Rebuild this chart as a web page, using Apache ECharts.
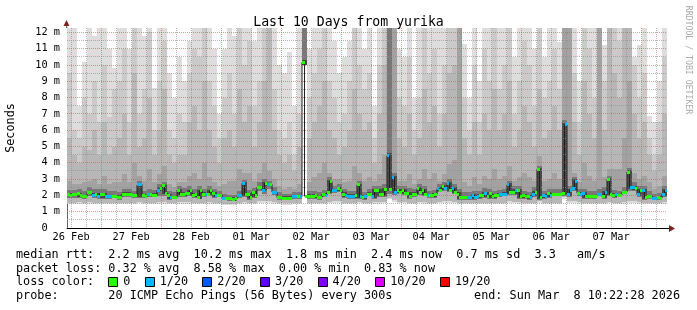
<!DOCTYPE html>
<html><head><meta charset="utf-8">
<script src="https://cdn.jsdelivr.net/npm/echarts@6/dist/echarts.min.js"></script>
<style>html,body{margin:0;padding:0;background:#fff}#c{width:697px;height:310px}</style>
</head><body><div id="c"></div>
<script>
// ---- time frame (hours after 26 Feb 00:00) ----
const startHour = 10 + 22/60 + 28/3600;   // end: Sun Mar 8 10:22:28 2026, 10 days
const spanHours = 240;
const medianStep = 1;   // hours per median value
const smokeStep = 2;    // hours per smoke column

const dayLabels = ['26 Feb','27 Feb','28 Feb','01 Mar','02 Mar','03 Mar','04 Mar','05 Mar','06 Mar','07 Mar'];
const dayLabelHours = [12,36,60,84,108,132,156,180,204,228];
const yTickValues = [0,1,2,3,4,5,6,7,8,9,10,11,12];

// ---- median rtt (ms), one per hour ----
const median = [
2.04,2.02,2.04,2.06,2.09,2.00,1.92,1.94,2.19,2.15,2.02,2.08,1.92,2.08,2.08,1.94,1.94,1.94,1.96,1.96,
1.86,1.88,2.08,2.08,2.06,2.08,1.98,2.00,2.64,2.68,1.98,1.96,2.04,2.06,2.02,2.00,2.33,2.45,2.59,2.14,
2.02,1.86,1.88,1.88,2.31,2.08,2.06,2.14,2.12,2.29,1.98,2.08,1.88,2.29,2.08,2.06,2.08,2.29,2.14,1.98,
2.02,2.02,1.84,1.80,1.78,1.80,1.76,1.80,1.98,2.00,2.74,2.06,2.06,1.88,2.20,1.98,2.50,2.50,2.33,2.76,
2.64,2.68,2.20,2.20,1.88,1.88,1.84,1.82,1.82,1.84,1.92,1.92,1.92,1.92,10.16,1.96,1.96,1.92,1.92,1.98,
1.88,1.88,2.06,2.02,2.20,2.84,2.29,2.29,2.41,2.33,2.08,1.98,1.96,1.94,1.94,2.00,2.64,1.92,1.88,1.92,
2.08,2.08,1.94,2.29,2.29,2.04,2.04,2.35,4.43,2.35,3.10,2.20,2.33,2.20,2.31,2.14,2.14,1.94,2.08,2.06,
2.41,2.16,2.33,2.08,2.02,1.98,1.98,2.08,2.41,2.33,2.54,2.41,2.74,2.33,2.41,2.20,2.08,1.88,1.88,1.88,
1.88,1.88,2.02,1.88,1.92,1.98,1.98,2.14,1.94,2.12,1.94,2.02,2.02,2.08,2.08,2.08,2.64,2.16,2.16,2.29,
2.31,1.94,1.98,1.92,1.92,1.86,2.04,2.20,3.60,1.88,2.02,1.94,2.12,1.98,2.08,2.08,2.08,2.08,2.14,6.33,
2.04,2.33,2.44,2.88,2.14,2.08,2.12,1.94,1.94,1.94,1.94,1.94,2.08,2.08,1.92,2.18,2.98,2.08,1.98,2.08,
2.02,2.02,2.20,2.20,3.43,2.50,2.50,2.41,2.04,2.29,2.33,1.88,1.94,1.94,1.82,1.82,1.86,1.84,2.04,2.31];

// ---- lost pings out of 20, one per hour ----
const lostPings = [
0,0,0,0,0,0,0,0,0,0,1,0,1,0,0,1,1,1,0,0,
0,0,0,0,0,0,0,0,1,1,0,0,1,0,0,0,1,0,0,0,
0,1,0,0,0,0,0,0,0,0,0,0,0,0,0,1,0,0,0,1,
0,0,1,0,0,0,0,0,1,1,1,0,0,0,0,0,0,0,1,0,
1,0,1,1,0,0,0,0,0,0,1,1,0,1,0,0,0,0,0,0,
0,0,0,1,0,0,1,1,0,0,0,1,1,1,1,0,0,1,0,1,
0,0,1,0,0,0,0,0,1,0,1,1,0,0,0,0,0,0,0,0,
0,0,0,0,1,0,0,0,1,0,0,1,1,0,1,0,0,0,0,0,
1,1,1,1,1,0,0,1,0,0,0,0,0,1,1,1,1,0,0,1,
0,0,0,0,0,1,1,0,0,0,1,1,0,1,0,0,0,0,0,1,
1,1,1,1,0,1,1,0,0,0,0,0,1,1,0,1,0,0,0,1,
0,0,0,0,0,1,1,0,1,0,1,0,0,0,1,1,0,0,1,1];

// ---- smoke (ping spread, ms), one column per 2 hours; hi = upper edge, lo = lower edge ----
const smokeHi1 = [
12.4,12.4,7.5,10.2,12.4,11.8,12.4,12.4,11.0,9.8, 12.4,12.4,11.0,12.4,12.4,11.8,12.4,8.6,12.4,12.4,
9.5,8.0,10.5,9.0,11.5,12.4,12.4,12.4,12.4,11.0, 7.0,11.0,12.4,11.8,12.4,12.4,12.4,11.5,12.4,12.4,
12.4,12.4,10.0,9.5,10.8,7.5,12.4,12.4,11.0,12.4, 12.4,12.4,12.4,11.5,9.5,10.5,11.5,12.4,12.4,11.0,
12.4,7.5,12.4,12.4,12.4,12.4,11.0,10.5,12.4,8.0, 12.4,12.4,12.4,12.4,12.4,12.4,12.4,12.4,12.4,11.3,
8.0,12.4,9.0,12.4,12.4,12.4,12.4,12.4,12.4,10.5, 12.4,12.4,12.4,11.0,12.4,10.5,12.4,12.4,11.4,12.4,
12.4,12.4,9.0,12.4,12.4,12.4,12.4,11.2,12.4,12.4, 12.4,12.4,12.4,10.5,11.2,12.4,6.9,6.5,9.0,12.4];
const smokeHi2 = [
9.5,6.0,5.5,8.0,7.0,9.0,6.5,10.0,6.8,8.5, 9.0,11.0,6.5,12.4,7.0,8.5,12.0,6.0,9.0,11.5,
6.0,5.5,7.0,6.5,9.5,11.0,10.5,12.4,9.0,7.5, 5.5,8.0,9.5,7.0,12.4,10.0,11.5,7.5,9.0,12.4,
12.4,8.5,6.0,5.5,6.5,4.5,7.0,12.4,8.0,9.5, 11.0,12.4,9.0,8.0,6.5,7.0,9.0,12.4,10.0,8.5,
9.5,5.5,10.0,12.4,12.4,12.4,8.0,7.5,10.5,6.0, 8.0,12.4,9.5,11.0,7.0,10.0,12.4,12.4,12.4,8.0,
6.0,10.0,6.5,11.0,9.0,12.4,8.5,10.0,12.4,7.0, 9.0,11.5,10.0,7.5,12.4,8.0,9.0,11.0,8.5,12.4,
12.4,9.5,6.5,12.4,11.0,8.0,12.4,9.0,12.4,12.4, 11.5,12.4,12.4,10.0,8.0,9.5,5.5,4.5,6.5,10.5];
const smokeHi3 = [
5.5,4.5,4.0,5.0,4.8,6.0,4.5,6.5,4.5,5.0, 5.5,7.0,4.5,9.5,5.0,5.5,8.0,4.5,6.0,8.5,
4.5,4.0,4.5,4.5,6.5,7.5,6.0,9.0,6.0,5.0, 4.0,5.5,6.0,5.0,8.5,6.5,7.5,5.0,6.5,9.0,
12.4,6.0,4.5,4.0,4.5,3.5,5.0,12.4,5.5,6.5, 7.5,9.0,6.0,5.5,4.5,5.0,6.0,8.5,7.0,6.0,
6.5,4.0,7.0,10.0,12.4,12.4,5.5,5.0,7.0,4.5, 5.5,8.5,6.5,7.5,5.0,7.0,9.5,10.0,12.4,5.5,
4.5,6.5,4.5,7.0,6.0,8.5,6.0,7.0,9.0,5.0, 6.0,7.5,6.5,5.0,8.5,5.5,6.0,7.5,6.0,12.4,
12.4,6.5,4.5,9.0,7.0,5.5,12.4,6.0,12.4,9.5, 8.0,12.4,12.4,7.0,5.5,6.5,4.5,3.5,4.5,7.0];
const smokeHi4 = [
2.9,2.7,2.7,2.8,2.9,3.0,2.7,3.2,2.7,2.8, 2.8,3.3,2.8,4.0,3.2,2.9,3.6,2.8,3.3,3.8,
2.7,2.5,2.8,2.8,3.2,3.4,3.0,4.0,3.1,2.8, 2.6,2.7,2.9,2.9,3.6,3.4,3.4,2.9,3.4,4.0,
3.5,3.0,2.6,2.4,2.5,2.4,2.7,12.4,2.8,3.1, 3.4,4.0,3.4,3.0,3.0,2.8,2.9,3.8,3.4,2.9,
3.1,2.9,3.3,4.5,12.4,12.4,2.9,2.9,3.3,2.7, 3.0,3.6,3.0,3.4,2.9,3.3,3.9,4.2,12.4,2.8,
2.6,3.1,2.7,3.2,3.0,3.6,3.0,3.2,3.8,2.9, 3.1,3.4,3.1,2.9,4.4,2.9,3.0,3.4,3.0,12.4,
12.4,3.4,2.8,4.0,3.2,2.9,12.4,3.1,3.6,3.6, 3.6,5.5,9.0,3.4,3.0,3.2,2.8,2.4,2.6,3.2];
const smokeHi5 = [
2.35,2.35,2.40,2.25,2.50,2.40,2.40,2.40,2.30,2.30, 2.20,2.40,2.40,2.30,2.90,2.30,2.40,2.35,2.70,2.80,
2.30,2.20,2.55,2.45,2.55,2.40,2.55,2.40,2.55,2.40, 2.30,2.10,2.05,2.05,2.30,2.95,2.35,2.45,2.80,3.00,
2.90,2.50,2.20,2.10,2.10,2.20,2.20,12.40,2.25,2.25, 2.20,2.35,3.10,2.60,2.70,2.40,2.25,2.30,2.90,2.20,
2.40,2.60,2.60,2.70,12.40,3.40,2.60,2.60,2.45,2.40, 2.70,2.60,2.30,2.35,2.70,2.80,3.00,2.70,2.40,2.20,
2.20,2.30,2.30,2.45,2.40,2.30,2.35,2.40,2.90,2.60, 2.60,2.30,2.20,2.50,3.80,2.30,2.40,2.40,2.40,6.60,
2.60,3.10,2.40,2.40,2.25,2.25,2.40,2.50,3.20,2.35, 2.30,2.50,3.70,2.80,2.60,2.60,2.25,2.10,2.15,2.60];
const smokeHi6 = [
2.15,2.15,2.15,2.05,2.28,2.15,2.15,2.15,2.05,2.05, 2.00,2.18,2.18,2.10,2.75,2.08,2.15,2.12,2.52,2.65,
2.10,1.98,2.38,2.22,2.36,2.16,2.36,2.18,2.36,2.22, 2.10,1.92,1.88,1.88,2.08,2.82,2.14,2.28,2.60,2.85,
2.75,2.30,1.98,1.94,1.94,2.02,2.02,10.30,2.06,2.06, 1.98,2.16,2.92,2.38,2.50,2.18,2.06,2.08,2.72,2.00,
2.18,2.38,2.38,2.45,4.60,3.20,2.42,2.40,2.22,2.18, 2.50,2.42,2.10,2.16,2.50,2.62,2.82,2.50,2.18,1.98,
1.98,2.10,2.06,2.22,2.20,2.10,2.16,2.18,2.74,2.38, 2.40,2.06,2.00,2.28,3.70,2.10,2.20,2.16,2.16,6.45,
2.42,2.98,2.22,2.20,2.04,2.04,2.16,2.26,3.08,2.16, 2.10,2.28,3.53,2.58,2.38,2.42,2.04,1.92,1.94,2.40];
const smokeLo1 = [
1.48,1.48,1.50,1.47,1.50,1.48,1.47,1.48,1.47,1.47, 1.45,1.48,1.48,1.47,1.52,1.47,1.48,1.48,1.50,1.50,
1.46,1.45,1.50,1.50,1.50,1.48,1.47,1.48,1.50,1.48, 1.48,1.43,1.42,1.42,1.47,1.50,1.46,1.48,1.55,1.55,
1.55,1.50,1.45,1.43,1.43,1.47,1.47,10.0,1.47,1.47, 1.45,1.48,1.52,1.55,1.55,1.48,1.47,1.47,1.52,1.45,
1.48,1.50,1.50,1.52,1.75,1.60,1.52,1.52,1.48,1.48, 1.52,1.50,1.47,1.48,1.52,1.55,1.55,1.52,1.47,1.45,
1.45,1.46,1.46,1.48,1.47,1.47,1.48,1.48,1.55,1.52, 1.50,1.47,1.45,1.48,1.55,1.47,1.48,1.48,1.48,1.80,
1.55,1.55,1.50,1.48,1.47,1.47,1.48,1.48,1.52,1.48, 1.48,1.50,1.55,1.55,1.50,1.48,1.47,1.45,1.45,1.50];
const smokeLo2 = [
1.56,1.56,1.58,1.55,1.58,1.56,1.55,1.56,1.55,1.55, 1.53,1.56,1.56,1.55,1.62,1.55,1.56,1.56,1.60,1.60,
1.54,1.53,1.58,1.58,1.58,1.56,1.55,1.56,1.58,1.56, 1.56,1.50,1.50,1.50,1.55,1.60,1.54,1.56,1.65,1.65,
1.65,1.60,1.53,1.51,1.51,1.55,1.55,10.0,1.55,1.55, 1.53,1.56,1.62,1.64,1.64,1.56,1.55,1.55,1.62,1.53,
1.56,1.58,1.58,1.62,1.85,1.70,1.62,1.62,1.56,1.56, 1.62,1.60,1.55,1.56,1.62,1.65,1.65,1.62,1.55,1.53,
1.53,1.54,1.54,1.56,1.55,1.55,1.56,1.56,1.65,1.62, 1.60,1.55,1.53,1.56,1.65,1.55,1.56,1.56,1.56,1.90,
1.65,1.65,1.58,1.56,1.55,1.55,1.56,1.56,1.62,1.56, 1.56,1.58,1.65,1.65,1.60,1.56,1.55,1.53,1.53,1.60];
const smokeLo3 = [
1.85,1.85,1.85,1.78,1.95,1.85,1.78,1.80,1.80,1.82, 1.74,1.92,1.90,1.84,1.84,1.82,1.90,1.88,1.98,1.98,
1.74,1.76,1.92,1.92,1.98,1.84,1.76,1.92,1.94,1.84, 1.88,1.70,1.66,1.64,1.84,1.92,1.74,1.84,2.30,2.10,
2.40,2.02,1.74,1.70,1.70,1.78,1.78,10.0,1.78,1.78, 1.74,1.88,2.06,2.14,2.20,1.84,1.80,1.80,1.78,1.74,
1.94,1.80,1.90,1.90,2.10,2.00,2.06,2.00,1.80,1.92, 2.02,1.94,1.84,1.84,2.18,2.26,2.18,2.06,1.74,1.74,
1.74,1.74,1.78,1.84,1.80,1.80,1.88,1.94,2.02,2.02, 1.80,1.78,1.74,1.90,1.74,1.80,1.84,1.94,1.94,1.98,
1.90,2.28,1.94,1.80,1.80,1.80,1.94,1.78,1.94,1.84, 1.88,2.06,2.28,2.28,1.90,1.74,1.80,1.70,1.70,1.90];
const smokeLo4 = [
1.94,1.96,1.92,1.84,2.07,1.94,1.84,1.86,1.86,1.88, 1.78,2.00,1.98,1.90,1.90,1.88,1.96,1.94,2.25,2.06,
1.78,1.80,2.00,1.98,2.04,1.90,1.80,1.98,2.00,1.90, 1.94,1.72,1.70,1.68,1.90,1.98,1.80,1.90,2.42,2.25,
2.56,2.12,1.80,1.74,1.74,1.84,1.84,10.0,1.84,1.84, 1.80,1.94,2.12,2.21,2.25,1.90,1.86,1.86,1.84,1.80,
2.00,1.86,1.96,1.96,2.27,2.12,2.12,2.06,1.86,1.98, 2.08,2.00,1.90,1.90,2.25,2.33,2.25,2.12,1.80,1.80,
1.80,1.80,1.84,1.90,1.86,1.86,1.94,2.00,2.08,2.08, 1.86,1.84,1.78,1.96,1.80,1.86,1.90,2.00,2.00,2.06,
1.96,2.36,2.00,1.86,1.86,1.86,2.00,1.84,2.00,1.90, 1.94,2.12,2.42,2.33,1.96,1.80,1.86,1.74,1.76,1.96];

// ---- loss colour legend ----
const lossLabels = ['0','1/20','2/20','3/20','4/20','10/20','19/20'];
const lossThresholds = [0,1,2,3,4,10,19];
const lossColors = ['#26ff00','#00b8ff','#0059ff','#5e00ff','#7e00ff','#dd00ff','#ff0000'];

// ---- summary text ----
const statLines = [
  'median rtt:  2.2 ms avg  10.2 ms max  1.8 ms min  2.4 ms now  0.7 ms sd  3.3   am/s',
  'packet loss: 0.32 % avg  8.58 % max  0.00 % min  0.83 % now',
  'loss color:',
  'probe:       20 ICMP Echo Pings (56 Bytes) every 300s'
];
const endText = 'end: Sun Mar  8 10:22:28 2026';
const titleText = 'Last 10 Days from yurika';
const yTitle = 'Seconds';
const watermark = 'RRDTOOL / TOBI OETIKER';

// =================== rendering ===================
const MONO = '"DejaVu Sans Mono", "Liberation Mono", monospace';
const yMax = 12.27;
const chart = echarts.init(document.getElementById('c'), null, {renderer: 'canvas'});

function lossIndex(n) {
  let idx = 0;
  for (let i = 0; i < lossThresholds.length; i++) if (n >= lossThresholds[i]) idx = i;
  return idx;
}

const layers = [
  {hi: smokeHi1, lo: smokeLo1, color: '#dddddd'},
  {hi: smokeHi2, lo: smokeLo2, color: '#cacaca'},
  {hi: smokeHi3, lo: smokeLo2, color: '#b7b7b7'},
  {hi: smokeHi4, lo: smokeLo3, color: '#a2a2a2'},
  {hi: smokeHi5, lo: smokeLo3, color: '#787878'},
  {hi: smokeHi6, lo: smokeLo4, color: '#4a4a4a'}
];

function rectRender(color) {
  return function (params, api) {
    const a = api.coord([api.value(0), api.value(3)]);
    const b = api.coord([api.value(1), api.value(2)]);
    const x0 = Math.round(a[0]), x1 = Math.round(b[0]);
    const y0 = Math.round(a[1]), y1 = Math.round(b[1]);
    return {type: 'rect', shape: {x: x0, y: y0, width: x1 - x0, height: y1 - y0},
            style: {fill: color}};
  };
}

const series = [];
layers.forEach((L, i) => {
  series.push({
    type: 'custom', name: 'smoke' + i, clip: true, silent: true, z: 1 + i * 0.01,
    data: L.hi.map((h, k) => [startHour + k * smokeStep, startHour + (k + 1) * smokeStep, L.lo[k], h]),
    encode: {x: [0, 1], y: [2, 3]},
    renderItem: rectRender(L.color)
  });
});

// grid lines drawn above the smoke (like rrdtool)
const gridData = [];
for (let h = Math.ceil(startHour / 6) * 6; h < startHour + spanHours; h += 6) gridData.push([0, h, h % 24 === 0 ? 1 : 0]);
for (let v = 0.5; v < yMax; v += 0.5) gridData.push([1, v, Number.isInteger(v) ? 1 : 0]);
series.push({
  type: 'custom', name: 'grid', silent: true, z: 3,
  data: gridData,
  renderItem: function (params, api) {
    const cs = params.coordSys;
    const kind = api.value(0), v = api.value(1), major = api.value(2);
    const stroke = major ? 'rgba(222,79,79,0.6)' : 'rgba(143,143,143,0.65)';
    let shape;
    if (kind === 0) {
      const x = Math.floor(api.coord([v, 0])[0]) + 0.5;
      shape = {x1: x, y1: cs.y, x2: x, y2: cs.y + cs.height};
    } else {
      const y = Math.floor(api.coord([startHour, v])[1]) + 0.5;
      shape = {x1: cs.x, y1: y, x2: cs.x + cs.width, y2: y};
    }
    return {type: 'line', shape: shape, style: {stroke: stroke, lineWidth: 1, lineDash: [1, 1]}};
  }
});

// median line
const medLine = median.map((m, j) => [startHour + j * medianStep, m]);
medLine.push([startHour + spanHours, median[median.length - 1]]);
series.push({
  type: 'line', name: 'median', data: medLine, step: 'end', symbol: 'none', z: 4,
  silent: true, lineStyle: {color: '#202020', width: 1}, clip: true
});

// median marks coloured by loss
series.push({
  type: 'custom', name: 'median loss', silent: true, z: 5, clip: true,
  data: median.map((m, j) => [startHour + j * medianStep, startHour + (j + 1) * medianStep, m, lostPings[j]]),
  encode: {x: [0, 1], y: 2},
  renderItem: function (params, api) {
    const a = api.coord([api.value(0), api.value(2)]);
    const b = api.coord([api.value(1), api.value(2)]);
    const x0 = Math.round(a[0]), x1 = Math.round(b[0]);
    const y = Math.round(a[1] - 1.5);
    return {type: 'rect', shape: {x: x0, y: y, width: x1 - x0, height: 3},
            style: {fill: lossColors[lossIndex(api.value(3))]}};
  }
});

// text / legend graphics
const cw = 11.8 * 0.6021;
const graphics = [];
const lineY = [255, 268.5, 282, 295.5];
statLines.forEach((t, i) => graphics.push({
  type: 'text', x: 16, y: lineY[i],
  style: {text: t, font: '11.8px ' + MONO, fill: '#000', align: 'left', verticalAlign: 'middle', textAlign: 'left', textVerticalAlign: 'middle'}
}));
graphics.push({
  type: 'text', x: 680, y: lineY[3],
  style: {text: endText, font: '11.8px ' + MONO, fill: '#000', align: 'right', verticalAlign: 'middle', textAlign: 'right', textVerticalAlign: 'middle'}
});
let lx = 16 + 13 * cw;
lossLabels.forEach((lab, i) => {
  graphics.push({type: 'rect', shape: {x: Math.round(lx) + 0.5, y: 277.5, width: 9, height: 9},
    style: {fill: lossColors[i], stroke: '#000', lineWidth: 1}});
  graphics.push({type: 'text', x: lx + 15, y: lineY[2],
    style: {text: lab, font: '11.8px ' + MONO, fill: '#000', align: 'left', verticalAlign: 'middle', textAlign: 'left', textVerticalAlign: 'middle'}});
  lx += 15 + lab.length * cw + 2 * cw;
});
graphics.push({
  type: 'text', x: 11, y: 128, rotation: Math.PI / 2,
  style: {text: yTitle, font: '11.8px ' + MONO, fill: '#000', align: 'center', verticalAlign: 'middle', textAlign: 'center', textVerticalAlign: 'middle'}
});
graphics.push({
  type: 'text', x: 688, y: 60, rotation: -Math.PI / 2,
  style: {text: watermark, font: '8.2px ' + MONO, fill: '#aaaaaa', align: 'center', verticalAlign: 'middle', textAlign: 'center', textVerticalAlign: 'middle'}
});
// axis extensions and arrows
graphics.push({type: 'line', shape: {x1: 667, y1: 228.5, x2: 671, y2: 228.5}, style: {stroke: '#000', lineWidth: 1}, z: 10});
graphics.push({type: 'line', shape: {x1: 66.5, y1: 28, x2: 66.5, y2: 24}, style: {stroke: '#666', lineWidth: 1}, z: 10});
graphics.push({type: 'polygon', shape: {points: [[63.5, 26], [69.5, 26], [66.5, 20]]}, style: {fill: '#801f1f'}, z: 10});
graphics.push({type: 'polygon', shape: {points: [[669, 225], [669, 232], [675, 228.5]]}, style: {fill: '#801f1f'}, z: 10});

chart.setOption({
  animation: false,
  backgroundColor: '#ffffff',
  title: {text: titleText, left: 'center', top: 11,
          textStyle: {fontFamily: MONO, fontSize: 13.2, fontWeight: 'normal', color: '#000'}},
  grid: {left: 67, top: 28, width: 600, height: 200, containLabel: false},
  xAxis: {
    type: 'value', min: startHour, max: startHour + spanHours,
    axisLine: {show: true, onZero: false, lineStyle: {color: '#000', width: 1}},
    axisTick: {show: false},
    splitLine: {show: false},
    axisLabel: {
      customValues: dayLabelHours, margin: 4,
      formatter: v => dayLabels[dayLabelHours.indexOf(Math.round(v))] || '',
      fontFamily: MONO, fontSize: 10.3, color: '#000', hideOverlap: false
    }
  },
  yAxis: {
    type: 'value', min: 0, max: yMax, interval: 1,
    axisLine: {show: true, lineStyle: {color: '#666', width: 1}},
    axisTick: {show: false},
    splitLine: {show: false},
    axisLabel: {
      margin: 7, showMaxLabel: false,
      formatter: v => (yTickValues.indexOf(v) < 0 ? '' : (v === 0 ? '0  ' : v + ' m')),
      fontFamily: MONO, fontSize: 10.3, color: '#000'
    }
  },
  graphic: graphics,
  series: series
});
</script>
</body></html>
